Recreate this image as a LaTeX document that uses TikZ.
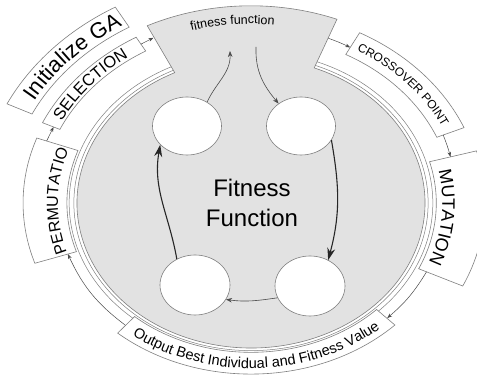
\documentclass[tikz,border=0pt]{standalone}
\usepackage{fontspec}
\setmainfont{Liberation Sans}
\setsansfont{Liberation Sans}
\definecolor{discgray}{HTML}{E2E2E2}
\definecolor{edgegray}{HTML}{7F7F7F}
\definecolor{arrowgray}{HTML}{4A4A4A}
\usetikzlibrary{arrows.meta,shapes.geometric,decorations.text}

\newcommand{\discx}{174}
\newcommand{\discy}{145}
\newcommand{\discpt}[2]{({\discx*(#2)*cos(#1)},{\discy*(#2)*sin(#1)})}
\newcommand{\discarc}[3]{arc[start angle=#1,end angle=#2,x radius={\discx*(#3)*1pt},y radius={\discy*(#3)*1pt}]}
\newcommand{\ringbox}[4]{\discpt{#1}{#4} \discarc{#1}{#2}{#4} -- \discpt{#2}{#3} \discarc{#2}{#1}{#3} -- cycle}
\newcommand{\ringtext}[3]{\discpt{#1}{#3} \discarc{#1}{#2}{#3}}

\tikzset{
    disc/.style={
        draw=edgegray,
        fill=discgray,
        line width=0.6pt
    },
    ringline/.style={
        draw=edgegray,
        line width=0.5pt
    },
    gabox/.style={
        draw=edgegray,
        fill=white,
        line width=0.6pt
    },
    gaarrow/.style={
        -{Stealth[length=5pt,width=3.6pt]},
        draw=arrowgray,
        line width=0.5pt
    },
    stagenode/.style={
        ellipse,
        draw=edgegray,
        fill=white,
        line width=0.6pt,
        inner sep=0pt,
        minimum width=69pt,
        minimum height=58pt
    },
    stagearrow/.style={
        -{Stealth[length=6pt,width=4.5pt]},
        draw=arrowgray,
        line width=0.6pt
    },
    stagebold/.style={
        -{Stealth[length=12pt,width=8pt]},
        draw=black!85,
        line width=1.1pt
    }
}

\begin{document}
\begin{tikzpicture}[x=1pt,y=1pt,font=\sffamily]
    \useasboundingbox (-251,-176) rectangle (226,203);

    \draw[ringline] (0,0) ellipse[x radius={\discx*1.018*1pt},y radius={\discy*1.018*1pt}];
    \draw[ringline] (0,0) ellipse[x radius={\discx*1.045*1pt},y radius={\discy*1.045*1pt}];

    \draw[disc] \discpt{116}{1} \discarc{116}{428.7}{1}
        -- \discpt{68.7}{1.36} \discarc{68.7}{116}{1.36} -- cycle;

    \draw[gabox] \ringbox{120}{154}{1.40}{1.56};
    \draw[gabox] \ringbox{120}{155.2}{1.21}{1.32};
    \draw[gabox] \ringbox{160}{198.5}{1.058}{1.31};
    \draw[gabox] \ringbox{229.5}{314.5}{1.03}{1.18};
    \draw[gabox] \ringbox{-25.2}{15.5}{1.065}{1.345};
    \draw[gabox] \ringbox{23}{62}{1.16}{1.33};

    \path[decorate,decoration={text along path,text align=center,
        text={|\fontsize{22}{26}\selectfont|Initialize GA}}] \ringtext{154}{118}{1.429};
    \path[decorate,decoration={text along path,text align=center,
        text={|\fontsize{16.5}{20}\selectfont|SELECTION}}] \ringtext{157}{121}{1.226};
    \path[decorate,decoration={text along path,text align=center,
        text={|\fontsize{16}{19}\selectfont|PERMUTATIO}}] \ringtext{200}{158.5}{1.11};
    \path[decorate,decoration={text along path,text align=center,
        text={|\fontsize{14.5}{17}\selectfont|Output Best Individual and Fitness Value}}] \ringtext{225}{319}{1.14};
    \path[decorate,decoration={text along path,text align=center,
        text={|\fontsize{18}{21}\selectfont|MUTATION}}] \ringtext{16}{-26}{1.10};
    \path[decorate,decoration={text along path,text align=center,
        text={|\fontsize{12}{14}\selectfont|CROSSOVER POINT}}] \ringtext{64}{21}{1.217};
    \path[decorate,decoration={text along path,text align=center,
        text={|\fontsize{12.5}{15}\selectfont|fitness function}}] \ringtext{115}{75}{1.235};

    \path \discpt{120}{1.265} coordinate (selectionEnd);
    \path \discpt{116.2}{1.27} coordinate (neckLeft);
    \path \discpt{68.6}{1.22} coordinate (neckRight);
    \path \discpt{62}{1.215} coordinate (crossoverStart);
    \path \discpt{23}{1.20} coordinate (crossoverEnd);
    \path \discpt{15.5}{1.19} coordinate (mutationTop);
    \path \discpt{-25.2}{1.115} coordinate (mutationBottom);
    \path \discpt{-45.4}{1.115} coordinate (outputRight);
    \path \discpt{229.5}{1.11} coordinate (outputLeft);
    \path \discpt{198.5}{1.11} coordinate (permBottom);
    \path \discpt{160}{1.25} coordinate (permTop);
    \path \discpt{155.2}{1.25} coordinate (selectionBottom);

    \draw[gaarrow] (selectionEnd) -- (neckLeft);
    \draw[gaarrow] (neckRight) to[bend left=3] (crossoverStart);
    \draw[gaarrow] (crossoverEnd) to[bend left=3] (mutationTop);
    \draw[gaarrow] (mutationBottom) to[bend left=9] (outputRight);
    \draw[gaarrow] (outputLeft) to[bend left=14] (permBottom);
    \draw[gaarrow] (permTop) -- (selectionBottom);

    \node[stagenode] (stageTL) at (-64,77) {};
    \node[stagenode] (stageTR) at (50,77) {};
    \node[stagenode,minimum width=70pt,minimum height=60pt] (stageBL) at (-56,-82) {};
    \node[stagenode,minimum width=70pt,minimum height=60pt] (stageBR) at (59,-83) {};

    \coordinate (neckIn) at (-21,152);
    \coordinate (neckOut) at (5,156);

    \draw[stagearrow] (stageTL.50) to[out=65,in=-88] (neckIn);
    \draw[stagearrow] (neckOut) to[out=-92,in=130] (stageTR.135);
    \draw[stagebold] (stageTR.-25) to[out=-80,in=75] (stageBR.55);
    \draw[stagearrow] (stageBR.200) to[out=188,in=-8] (stageBL.-25);
    \draw[stagebold] (stageBL.125) to[out=100,in=-100] (stageTL.215);

    \node[align=center,font=\fontsize{24}{30}\selectfont] (fitnessLabel) at (1,0) {Fitness\\Function};
\end{tikzpicture}
\end{document}
